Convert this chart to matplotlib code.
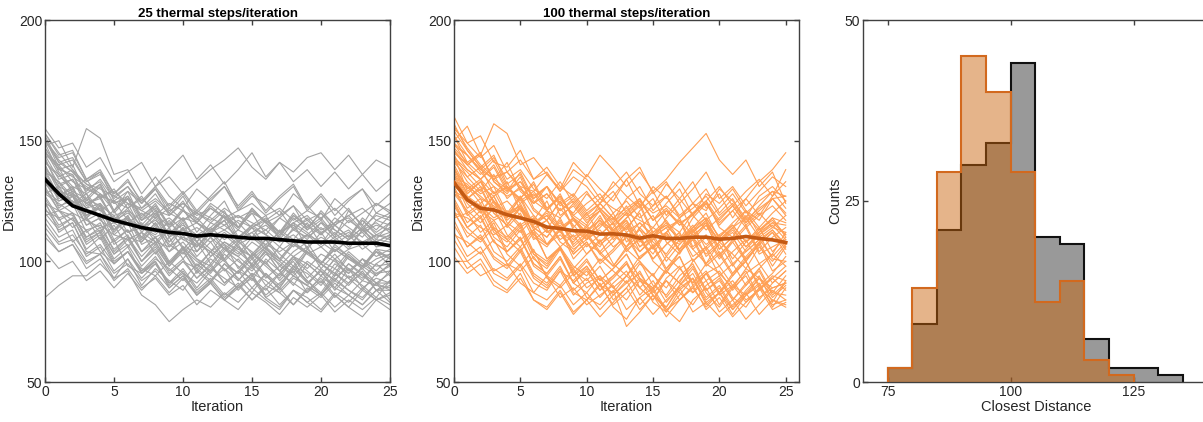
import numpy as np
import matplotlib
matplotlib.use("Agg")
import matplotlib.pyplot as plt

plt.rcParams['font.family'] = ['Liberation Sans', 'DejaVu Sans']

iterations = list(range(26))

# Mean curves
mean_25 = [134, 128, 123, 121, 119, 117, 115.5, 114, 113, 112, 111.5, 110.5, 111,
           110.5, 110, 109.5, 109.5, 109, 108.5, 108, 108, 108, 107.5, 107.5, 107.5, 106.5]
mean_100 = [132.7, 125.5, 122, 121.3, 119.3, 118, 116.5, 114.2, 113.6, 112.7, 112.5,
            111.3, 111.4, 110.9, 109.6, 110.6, 109.5, 109.5, 110, 110, 109.2, 109.5,
            110.3, 109.5, 108.9, 107.8]

# Individual traces (estimated by eye, a representative subset)
traces_25 = [
    [152,141,137,130,133,124,127,119,123,115,121,118,112,120,116,110,117,121,113,118,111,116,122,114,119,117],
    [148,150,139,155,151,136,138,128,135,127,122,130,125,131,121,127,124,119,128,123,117,126,121,115,124,120],
    [85,90,94,94,99,93,101,90,97,92,88,96,91,99,93,87,95,90,98,92,86,94,97,89,93,91],
    [140,129,127,117,120,109,113,104,108,99,106,101,95,103,98,92,101,96,90,99,94,101,93,97,91,95],
    [130,121,119,110,113,103,107,98,104,95,100,93,99,91,96,102,94,89,97,92,87,95,90,96,88,92],
    [145,138,136,126,132,121,127,118,124,115,122,112,119,125,114,120,111,118,123,113,117,110,121,115,109,116],
    [120,113,116,105,110,99,104,96,100,91,95,86,91,84,89,93,85,81,88,83,79,86,81,77,84,80],
    [138,127,131,119,122,111,116,104,110,99,105,95,101,97,92,99,94,89,97,91,96,88,94,90,85,92],
    [155,147,149,139,143,133,137,141,131,138,144,134,140,132,138,145,135,141,137,143,145,138,144,136,142,139],
    [126,117,120,109,112,101,106,95,100,89,94,86,91,84,90,95,85,89,82,88,93,86,81,88,84,86],
    [135,126,129,118,123,112,118,110,116,108,114,106,113,117,108,112,105,113,109,116,107,112,106,113,108,111],
    [112,104,107,97,101,92,97,89,93,86,90,82,88,84,80,87,83,78,85,81,86,79,84,80,85,82],
    [150,143,145,134,138,128,133,125,131,123,129,121,127,133,122,128,120,126,131,121,127,119,125,130,120,124],
    [142,132,134,123,127,117,124,113,120,111,118,108,116,121,110,115,119,109,116,112,107,115,110,117,111,114],
    [118,110,113,102,106,96,101,93,99,91,97,89,96,101,92,98,90,95,100,91,96,89,97,93,99,94],
    [131,121,124,112,116,104,110,100,106,98,104,96,102,107,97,103,99,94,102,106,97,103,96,101,94,99],
    [147,138,140,128,132,121,126,115,121,110,117,108,114,119,109,115,111,106,114,109,116,110,105,113,108,111],
    [124,115,118,108,112,103,109,100,107,98,105,100,96,104,109,101,106,98,104,108,99,105,101,97,104,101],
    [128,131,123,126,117,121,112,116,108,114,105,111,102,108,104,99,106,101,97,104,99,95,103,98,105,101],
    [139,131,134,125,131,120,126,117,123,114,121,116,111,119,114,122,116,110,118,113,121,115,110,118,113,119],
    [104,97,100,92,96,89,95,88,94,87,93,86,92,97,88,94,86,91,96,87,92,85,91,95,88,90],
    [144,134,136,124,127,116,121,112,118,108,114,106,112,105,110,103,109,101,107,104,99,107,102,98,105,104],
    [133,123,125,115,118,108,113,104,110,100,106,98,104,96,101,94,100,92,98,95,90,97,93,88,95,96],
    [150,141,143,133,136,127,131,122,128,119,125,116,123,118,113,121,116,111,119,114,120,113,109,117,112,116],
    [116,108,111,103,107,99,104,96,102,94,100,97,92,99,95,101,93,98,94,90,97,92,99,94,90,96],
    [137,127,131,119,124,113,119,108,115,104,111,102,108,100,106,98,104,96,102,99,94,101,97,92,99,103],
    [122,114,118,107,111,100,104,95,99,90,96,88,93,86,91,84,90,87,82,89,85,91,86,82,88,88],
    [141,135,138,129,134,126,131,124,130,122,128,120,126,131,123,129,121,127,132,122,128,121,126,130,123,128],
    [127,118,120,110,114,105,110,102,108,99,106,97,104,100,95,103,98,93,101,96,91,99,95,101,96,102],
    [153,144,146,134,137,125,129,117,122,110,116,104,110,101,107,98,104,96,102,93,99,95,91,98,94,99],
    [110,104,107,99,103,95,99,92,96,89,94,87,92,85,90,84,89,82,88,85,80,87,83,89,84,87],
    [145,140,142,133,137,128,134,124,130,120,127,117,124,120,114,122,116,112,120,114,118,111,117,113,120,118],
    [119,121,114,118,109,115,106,112,103,110,101,108,99,106,102,97,105,100,95,104,99,94,102,97,101,103],
    [136,125,127,115,118,107,111,100,105,96,101,93,98,91,96,89,95,88,94,90,86,93,88,84,91,91],
    [129,125,128,118,123,113,119,109,116,106,114,104,112,117,108,114,106,111,116,105,112,104,109,114,106,107],
    [114,107,109,100,103,93,96,86,82,75,80,84,81,87,83,89,84,80,88,83,87,81,86,82,88,83],
    [132,127,130,122,128,121,129,124,131,135,128,133,138,142,147,139,134,141,133,138,131,137,130,136,129,134],
    [149,137,131,128,121,125,117,114,119,110,113,108,104,111,106,102,109,103,98,105,100,97,104,99,95,98],
    [125,112,116,104,103,109,98,95,101,97,92,99,94,90,96,93,88,95,91,87,94,89,86,92,90,89],
    [143,130,124,128,117,113,118,107,110,104,108,101,98,105,100,96,103,99,94,100,96,92,99,95,91,88],
    [134,122,127,118,112,119,110,108,114,107,103,110,105,101,108,104,99,106,102,97,103,100,95,101,98,99],
    [151,139,128,124,126,117,122,114,111,117,109,106,112,107,103,110,105,101,108,104,99,106,102,98,104,98],
    [121,118,108,113,104,99,104,97,94,100,95,91,97,93,89,95,92,87,93,90,86,92,88,85,91,84],
    [146,136,130,134,126,130,122,127,119,124,121,116,122,118,114,120,117,112,119,115,111,118,114,110,117,115],
    [138,133,124,119,123,113,117,110,107,113,106,104,110,105,102,108,104,100,107,103,99,105,101,98,104,102],
    [147,139,135,131,127,125,122,126,121,119,124,120,117,122,118,121,116,119,123,117,120,115,119,122,117,120],
    [141,136,129,126,123,119,121,117,120,114,118,116,113,117,119,114,117,112,116,119,113,116,118,112,115,113],
    [153,145,138,132,130,127,124,121,125,120,117,121,118,115,119,116,113,118,114,117,112,115,119,113,116,112],
    [137,133,127,122,124,118,116,120,115,118,113,116,112,115,110,114,111,108,113,110,114,109,112,108,111,110],
    [128,124,120,117,114,116,112,114,110,113,109,111,108,112,107,110,113,108,111,106,110,107,111,105,109,108],
    [144,140,133,130,127,129,124,122,126,121,124,119,122,118,121,124,119,122,117,121,118,122,116,120,124,121],
    [133,128,125,121,119,116,118,114,117,112,115,111,114,109,113,110,107,112,108,111,106,110,113,107,111,109],
    [150,142,137,132,128,124,126,121,118,122,117,120,116,113,117,114,118,112,115,111,116,113,109,114,110,112],
    [139,131,128,124,121,117,120,115,112,116,111,114,110,113,109,112,115,110,106,111,108,104,109,112,106,110],
    [124,121,117,113,115,111,109,112,108,106,110,107,104,108,105,102,107,104,108,103,106,101,105,107,102,105],
]

traces_100 = [
    [160,149,152,141,139,146,134,137,129,135,131,124,133,127,122,131,126,133,124,121,130,125,118,127,131,125],
    [150,156,144,157,153,140,143,136,129,138,134,126,131,137,128,123,132,126,119,128,124,130,121,117,126,127],
    [100,100,94,97,93,99,91,88,96,92,98,90,94,99,92,89,96,91,87,95,98,90,86,93,89,91],
    [142,133,128,131,120,123,113,117,108,104,111,103,98,105,100,94,102,97,91,99,95,89,97,93,87,94],
    [131,120,124,113,109,115,103,99,106,94,98,90,87,94,89,84,92,87,82,90,94,85,81,89,84,82],
    [147,141,136,142,131,126,133,122,127,119,115,124,118,113,121,126,116,112,120,125,114,110,119,113,118,116],
    [120,112,108,114,103,98,105,93,89,95,85,82,88,73,79,86,80,84,89,81,87,92,84,88,94,92],
    [138,128,133,125,118,127,119,113,122,115,109,118,112,106,114,108,103,111,105,99,108,103,97,106,100,107],
    [155,149,143,148,137,142,134,139,131,127,136,130,125,134,139,128,133,124,130,137,126,131,123,129,135,131],
    [125,114,119,108,104,110,98,94,101,91,87,94,89,84,92,86,81,89,93,83,87,80,86,90,82,84],
    [133,124,118,125,114,120,109,113,106,111,103,108,113,104,110,101,107,112,100,106,111,99,104,109,102,108],
    [112,102,106,96,99,91,87,94,85,89,82,86,90,80,85,78,84,89,79,83,77,82,87,78,84,81],
    [149,140,145,133,129,137,126,131,124,120,128,122,117,126,131,121,127,118,124,130,120,126,116,123,129,127],
    [139,128,133,125,120,127,115,119,112,118,109,114,120,108,113,105,112,118,106,111,102,109,115,104,110,114],
    [117,106,111,102,98,105,94,90,97,88,93,85,91,96,86,92,83,90,97,87,81,89,94,84,91,96],
    [128,121,116,122,111,106,113,101,105,97,103,109,99,94,102,106,96,91,100,105,94,99,90,97,103,98],
    [144,135,139,128,133,121,117,125,113,118,110,106,114,120,109,103,112,117,105,110,101,108,114,103,106,109],
    [123,114,109,116,104,109,99,95,102,91,97,88,94,100,89,84,93,98,87,92,82,90,96,85,89,91],
    [135,126,131,120,115,123,110,106,113,101,107,104,98,106,111,100,95,104,109,98,103,94,101,107,96,100],
    [152,141,145,133,128,135,122,117,125,113,109,116,111,106,114,119,108,103,112,117,105,110,100,108,113,107],
    [106,97,101,92,88,95,84,80,87,78,84,91,81,76,85,89,80,75,84,89,79,84,76,82,88,84],
    [141,135,129,136,126,131,121,117,125,114,120,111,116,123,113,109,118,124,112,117,108,114,121,111,116,115],
    [130,119,123,112,108,114,103,98,106,95,101,92,97,103,93,88,96,102,90,95,87,94,100,89,93,98],
    [146,140,144,134,137,131,129,136,130,141,135,144,138,131,137,129,134,141,147,153,142,136,142,131,137,124],
    [115,106,110,101,97,104,93,89,96,86,91,94,84,89,96,86,81,90,95,85,90,81,88,94,83,92],
    [137,127,121,127,116,112,118,107,113,103,108,99,104,110,101,106,111,105,113,118,110,116,121,114,120,125],
    [121,110,115,104,100,106,95,91,98,87,84,90,82,87,93,83,79,88,93,82,87,78,86,91,81,89],
    [143,138,134,139,129,133,124,128,121,126,119,124,129,120,126,117,124,130,119,125,131,123,129,134,127,138],
    [126,116,121,110,106,113,101,97,105,94,100,92,97,103,93,89,97,102,91,96,87,95,100,90,95,102],
    [154,146,139,144,132,136,125,121,128,117,112,119,109,114,120,106,112,104,110,116,103,108,100,107,112,103],
    [109,100,104,95,92,98,87,84,90,82,87,80,86,92,82,88,79,86,93,84,89,80,87,93,85,90],
    [145,140,134,140,130,126,132,121,127,118,114,121,113,118,124,112,117,109,118,124,115,121,126,119,127,133],
    [118,120,112,117,109,104,112,101,106,98,94,101,96,91,99,94,89,97,101,92,96,88,95,99,91,96],
    [134,122,126,114,110,116,104,100,106,96,92,98,89,94,100,90,86,94,99,88,92,84,91,97,87,86],
    [129,126,120,127,117,122,114,110,118,107,112,104,110,116,106,111,102,109,115,105,110,101,108,114,104,110],
    [148,144,138,143,134,138,130,126,133,124,129,121,127,134,123,129,119,126,133,122,128,118,126,133,138,145],
    [102,95,99,90,87,93,84,81,88,79,84,77,83,89,80,86,77,84,90,80,85,77,83,89,80,83],
    [136,126,130,120,115,122,111,107,114,103,108,100,105,112,101,107,97,104,110,99,104,95,102,108,98,106],
    [124,114,118,108,104,110,99,95,102,91,96,88,93,99,89,95,85,92,98,88,93,84,90,96,86,91],
    [140,130,134,124,119,126,114,110,117,106,111,103,108,115,104,110,100,107,113,102,107,98,105,111,101,100],
    [157,146,139,134,141,129,124,131,119,123,116,121,112,118,123,111,116,108,114,120,109,114,106,112,118,110],
    [111,108,103,109,99,96,102,94,90,97,89,93,86,91,95,87,92,84,89,95,86,90,83,88,93,88],
    [144,129,133,122,118,124,114,117,109,113,106,111,116,105,109,101,107,112,102,106,98,104,109,99,103,112],
    [133,131,124,129,119,123,116,119,112,108,115,107,111,117,106,110,114,104,109,115,105,110,101,107,112,105],
    [149,144,138,134,130,133,127,131,124,128,121,126,122,119,125,120,123,118,122,127,119,124,117,122,126,120],
    [142,137,131,127,131,124,128,121,118,124,117,121,115,120,117,114,121,116,119,113,118,123,115,120,114,119],
    [156,147,140,135,137,130,126,131,123,127,120,124,118,122,126,117,121,115,120,124,116,121,114,119,123,117],
    [135,132,126,123,119,122,116,120,113,117,111,115,118,112,116,110,114,117,111,115,109,114,118,110,114,112],
    [128,125,121,117,120,114,118,112,115,109,113,117,110,114,108,112,115,109,113,107,111,115,108,112,116,111],
    [146,138,134,128,131,125,129,122,126,119,124,128,120,125,118,123,127,119,124,117,122,128,120,125,129,122],
    [138,131,127,122,125,119,115,121,114,118,112,117,113,110,116,111,115,109,114,118,110,115,108,113,117,111],
    [131,127,123,118,121,115,119,112,116,110,114,108,113,117,109,114,110,107,113,116,108,113,106,111,115,109],
    [152,144,137,131,127,130,124,128,121,125,118,122,116,121,125,117,122,115,120,125,117,123,116,121,126,119],
    [120,118,114,111,115,109,113,107,111,105,109,113,106,110,104,109,112,105,110,103,108,112,104,109,113,106],
]

# Histogram of closest distance (bin width 5, starting at 75)
bin_edges_25 = [75, 80, 85, 90, 95, 100, 105, 110, 115, 120, 125, 130, 135]
counts_25 = [2, 8, 21, 30, 33, 44, 20, 19, 6, 2, 2, 1]
bin_edges_100 = [75, 80, 85, 90, 95, 100, 105, 110, 115, 120, 125]
counts_100 = [2, 13, 29, 45, 40, 29, 11, 14, 3, 1]

titles = ["25 thermal steps/iteration", "100 thermal steps/iteration"]

spine_col = '#404040'
fs = 10

fig = plt.figure(figsize=(12.03, 4.22), dpi=100)
W, H = 1203, 422

def px_axes(x0, x1, y0, y1):
    return fig.add_axes([x0 / W, (H - y1) / H, (x1 - x0) / W, (y1 - y0) / H])

def style(ax):
    for s in ax.spines.values():
        s.set_color(spine_col)
        s.set_linewidth(1.0)
    ax.tick_params(direction='in', length=3.5, width=1.0, color=spine_col,
                   labelcolor='#262626', labelsize=fs, pad=2,
                   top=True, right=True)

ax1 = px_axes(45, 390, 20, 382)
ax2 = px_axes(454, 799, 20, 382)
ax3 = px_axes(863, 1210, 20, 382)

for ax, traces, mean, tcol, mcol, title, xmax in [
        (ax1, traces_25, mean_25, '#a3a3a3', '#000000', titles[0], 25),
        (ax2, traces_100, mean_100, '#ffa055', '#c45a14', titles[1], 26)]:
    for tr in traces:
        ax.plot(iterations, tr, color=tcol, lw=0.8, zorder=1)
    ax.plot(iterations, mean, color=mcol, lw=2.6, zorder=3)
    ax.set_xlim(0, xmax)
    ax.set_ylim(50, 200)
    ax.set_xticks([0, 5, 10, 15, 20, 25])
    ax.set_yticks([50, 100, 150, 200])
    ax.set_xlabel("Iteration", fontsize=fs + 0.5, color='#262626', labelpad=1)
    ax.set_ylabel("Distance", fontsize=fs + 0.5, color='#262626', labelpad=2)
    ax.set_title(title, fontsize=fs - 0.5, fontweight='bold', pad=2)
    style(ax)

# Histogram panel
ax3.bar(bin_edges_25[:-1], counts_25, width=5, align='edge', color='#999999', lw=0, zorder=1)
ax3.stairs(counts_25, bin_edges_25, color='#111111', lw=1.5, zorder=2)
ax3.bar(bin_edges_100[:-1], counts_100, width=5, align='edge', color=(0.79, 0.39, 0.04),
        alpha=0.48, lw=0, zorder=3)
ax3.stairs(counts_100, bin_edges_100, color='#d2691e', lw=1.5, zorder=4)
ax3.set_xlim(70, 140.5)
ax3.set_ylim(0, 50)
ax3.set_xticks([75, 100, 125])
ax3.set_yticks([0, 25, 50])
ax3.set_xlabel("Closest Distance", fontsize=fs + 0.5, color='#262626', labelpad=1)
ax3.set_ylabel("Counts", fontsize=fs + 0.5, color='#262626', labelpad=2)
style(ax3)

fig.savefig("out.png", dpi=100)
